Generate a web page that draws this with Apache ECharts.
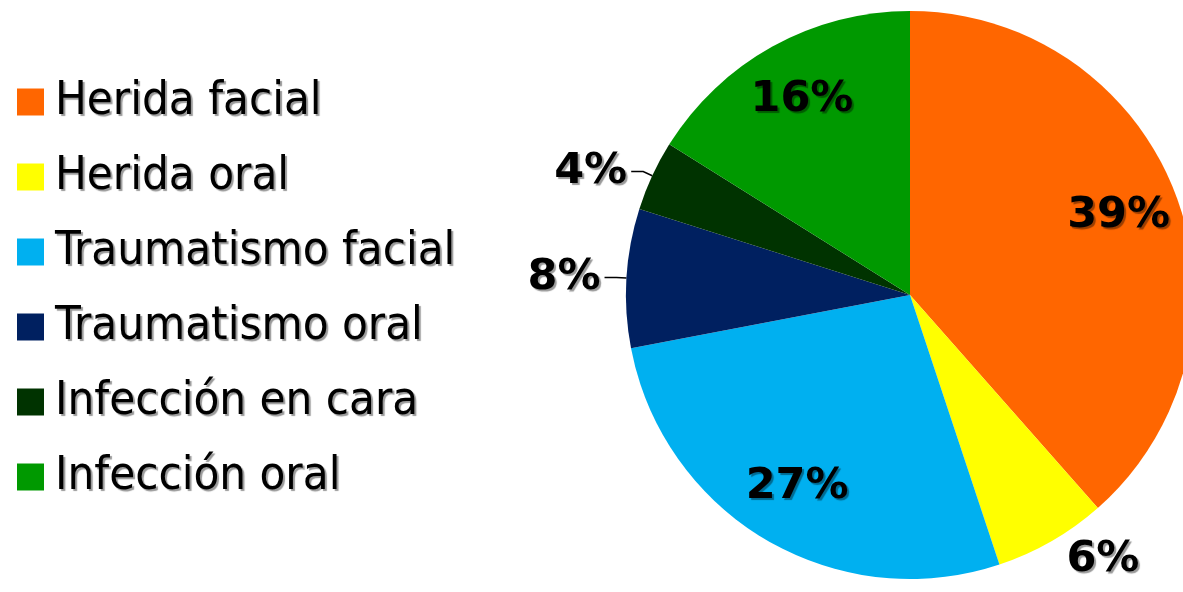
<!DOCTYPE html>
<html>
<head>
<meta charset="utf-8">
<script src="https://cdn.jsdelivr.net/npm/echarts@6/dist/echarts.min.js"></script>
<style>
html,body{margin:0;padding:0;background:#fff;}
#c{width:1183px;height:592px;}
</style>
</head>
<body>
<div id="c"></div>
<script>
const categories = ['Herida facial', 'Herida oral', 'Traumatismo facial', 'Traumatismo oral', 'Infección en cara', 'Infección oral'];
const values = [38.5, 6.4, 27.1, 7.9, 4.0, 16.1];
const colors = ['#FF6600', '#FFFF00', '#00B0F0', '#002060', '#003300', '#009900'];

const shadow = { textShadowColor: 'rgba(0,0,0,0.4)', textShadowOffsetX: 2, textShadowOffsetY: 2, textShadowBlur: 1 };
const pctFmt = p => Math.round(p.percent) + '%';
const isSmall = v => v < 10;

const chart = echarts.init(document.getElementById('c'));
const labelFont = Object.assign({ fontFamily: 'DejaVu Sans', fontWeight: 'bold', fontSize: 43, color: '#000' }, shadow);

const outerData = categories.map((n, i) => {
  const small = isSmall(values[i]);
  const d = {
    name: n, value: values[i],
    itemStyle: { color: colors[i] },
    label: { show: small, padding: [0, 0, 22, 0] },
    labelLine: { show: small }
  };
  if (i === 1) {
    d.label.padding = [32, 0, 0, 0];
    d.labelLine = { show: false, length: 22, length2: 0 };
  }
  return d;
});
const innerData = categories.map((n, i) => ({
  name: n, value: values[i],
  label: { show: !isSmall(values[i]) }
}));

chart.setOption({
  animation: false,
  color: colors,
  legend: {
    orient: 'vertical',
    left: 12,
    top: 73,
    icon: 'rect',
    itemWidth: 27,
    itemHeight: 27,
    itemGap: 27,
    data: categories,
    selectedMode: false,
    textStyle: Object.assign({ fontFamily: 'DejaVu Sans Condensed, DejaVu Sans', fontSize: 47, lineHeight: 48, color: '#000', padding: [0, 0, 0, 6] }, shadow)
  },
  series: [
    {
      type: 'pie',
      center: [910, 295],
      radius: 284,
      startAngle: 90,
      clockwise: true,
      silent: true,
      data: outerData,
      label: Object.assign({ position: 'outside', formatter: pctFmt, distanceToLabelLine: 4 }, labelFont),
      labelLine: { length: 10, length2: 12, lineStyle: { color: '#000', width: 1.5 } }
    },
    {
      type: 'pie',
      center: [910, 295],
      radius: [156, 284],
      startAngle: 90,
      clockwise: true,
      silent: true,
      data: innerData,
      itemStyle: { color: 'rgba(0,0,0,0)' },
      label: Object.assign({ position: 'inside', formatter: pctFmt }, labelFont),
      labelLine: { show: false }
    }
  ]
});
</script>
</body>
</html>
